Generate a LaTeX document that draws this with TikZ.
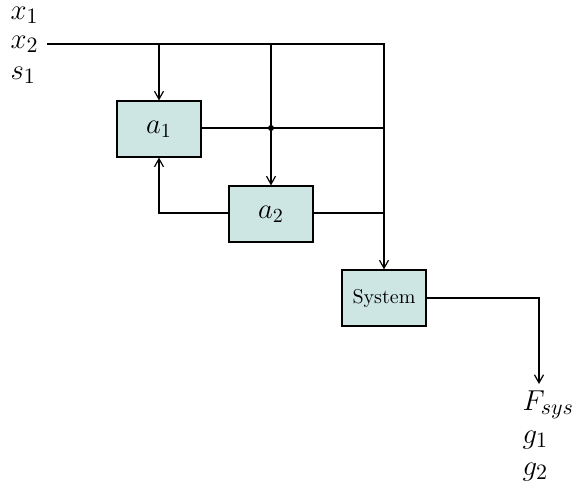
\documentclass[tikz,border=0pt]{standalone}
\usetikzlibrary{arrows.meta}
\definecolor{boxfill}{RGB}{205,230,228}
\begin{document}
\begin{tikzpicture}[x=0.5pt,y=-0.5pt,
  line width=0.6pt,
  >={Straight Barb[length=4pt,width=4.5pt]},
  block/.style={draw, fill=boxfill, minimum width=42pt, minimum height=28pt, inner sep=0pt},
  varlabel/.style={anchor=west, inner sep=0pt, font=\fontsize{15.5}{18}\selectfont},
  junction/.style={circle, fill, inner sep=0pt, minimum size=3pt}]
\useasboundingbox (0,0) rectangle (574,488);

% inputs
\node[varlabel] (x1) at (10,15) {$x_1$};
\node[varlabel] (x2) at (10,44) {$x_2$};
\node[varlabel] (s1) at (10,75) {$s_1$};

% blocks
\node[block, font=\Large] (a1) at (159,129) {$a_1$};
\node[block, font=\Large] (a2) at (271,214) {$a_2$};
\node[block] (sys) at (384,298) {System};

% outputs
\node[varlabel] (F) at (522,405) {$F_{sys}$};
\node[varlabel] (g1) at (522,440) {$g_1$};
\node[varlabel] (g2) at (522,472) {$g_2$};

% routing points
\coordinate (in) at (47,44);
\coordinate (ta1) at (159,44);
\coordinate (ta2) at (271,44);
\coordinate (tr) at (384,44);
\node[junction] (dot) at (271,128) {};
\coordinate (r1) at (384,128);
\coordinate (r2) at (384,213);
\coordinate (fb) at (159,213);
\coordinate (oc) at (539,298);
\coordinate (out) at (539,384);

% bus from x2 into the system
\draw[->] (in) -- (tr) -- (sys.north);
\draw[->] (ta1) -- (a1.north);
\draw[->] (ta2) -- (a2.north);
\draw (a1.east |- dot) -- (r1);
\draw (a2.east |- r2) -- (r2);
\draw[->] (a2.west |- fb) -- (fb) -- (a1.south);
\draw[->] (sys.east) -- (oc) -- (out);
\end{tikzpicture}
\end{document}
